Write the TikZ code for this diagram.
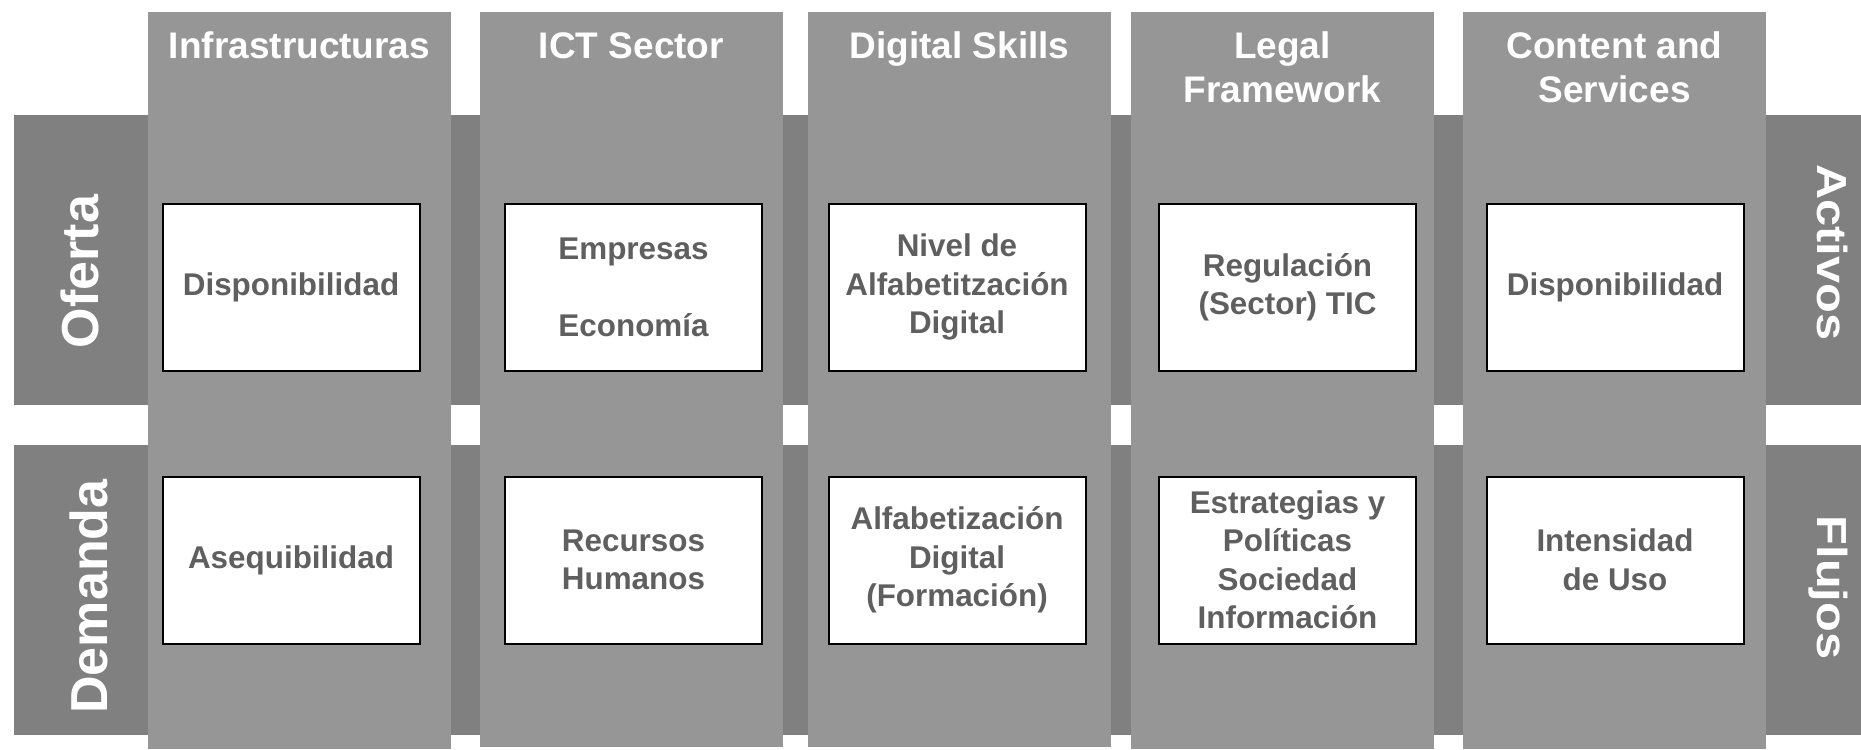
\documentclass[tikz,border=0pt]{standalone}
\usepackage{fontspec}
\setmainfont{Liberation Sans}
\usepackage{graphicx}
\definecolor{colgray}{RGB}{150,150,150}
\definecolor{bandgray}{RGB}{128,128,128}
\definecolor{txtgray}{RGB}{95,95,95}
\begin{document}
\begin{tikzpicture}[x=0.5pt,y=-0.5pt,
  band/.style={fill=bandgray},
  column/.style={fill=colgray},
  cell/.style={draw=black, line width=1pt, fill=white, minimum width=128.5pt, minimum height=83.5pt,
    inner sep=0pt, align=center, text=txtgray, font=\bfseries\fontsize{15.7}{19.25}\selectfont},
  head/.style={anchor=base, align=center, text=white, inner sep=0pt,
    font=\bfseries\fontsize{18.5}{22}\selectfont},
  sidel/.style={rotate=90, anchor=base, text=white, inner sep=0pt,
    font=\bfseries\fontsize{26}{30}\selectfont},
  sider/.style={rotate=-90, anchor=base, text=white, inner sep=0pt,
    font=\bfseries\fontsize{21}{25}\selectfont}
]
\useasboundingbox (0,0) rectangle (1861,749);
\fill[white] (0,0) rectangle (1861,749);
% horizontal bands
\fill[band] (14,115) rectangle (1861,405);
\fill[band] (14,445) rectangle (1861,735);
% columns
\fill[column] (148,12) rectangle (451,749);
\fill[column] (480,12) rectangle (783,747);
\fill[column] (808,12) rectangle (1111,747);
\fill[column] (1131,12) rectangle (1434,749);
\fill[column] (1463,12) rectangle (1766,749);
% headers (base anchor = baseline of last line)
\node[head] (h1) at (299.5,59) {Infrastructuras};
\node[head] (h2) at (631.5,59) {ICT Sector};
\node[head] (h3) at (959.5,59) {Digital Skills};
\node[head] (h4) at (1282.5,103) {Legal\\Framework};
\node[head] (h5) at (1614.5,103) {Content and\\Services};
% side labels
\node[sidel] (oferta) at (98,271.5) {Oferta};
\node[sidel] (demanda) at (107,596.5) {Demanda};
\node[sider] (activos) at (1817,252.5) {\scalebox{1.16}[1]{Activos}};
\node[sider] (flujos) at (1817,587.5) {\scalebox{1.16}[1]{Flujos}};
% top row boxes
\node[cell] (t1) at (291,287) {Disponibilidad};
\node[cell] (t2) at (633.5,287) {Empresas\\[19.25pt]Economía};
\node[cell] (t3) at (957,287) {Nivel de\\Alfabetitzación\\Digital};
\node[cell] (t4) at (1287.5,287) {Regulación\\(Sector) TIC};
\node[cell] (t5) at (1615,287) {Disponibilidad};
% bottom row boxes
\node[cell] (b1) at (291,560) {Asequibilidad};
\node[cell] (b2) at (633.5,560) {Recursos\\Humanos};
\node[cell] (b3) at (957,560) {Alfabetización\\Digital\\(Formación)};
\node[cell] (b4) at (1287.5,560) {Estrategias y\\Políticas\\Sociedad\\Información};
\node[cell] (b5) at (1615,560) {Intensidad\\de Uso};
\end{tikzpicture}
\end{document}
